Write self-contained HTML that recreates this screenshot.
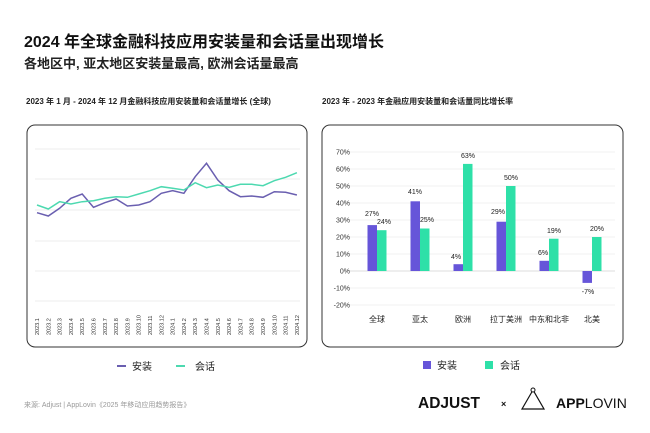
<!DOCTYPE html>
<html><head><meta charset="utf-8"><style>
body{margin:0;background:#fff;}
svg{display:block;font-family:"Liberation Sans","Noto Sans CJK SC",sans-serif;}
</style></head><body>
<svg width="650" height="433" viewBox="0 0 650 433">
<rect width="650" height="433" fill="#fff"/>
<text x="24" y="47" font-size="16" font-weight="bold" fill="#111">2024 年全球金融科技应用安装量和会话量出现增长</text>
<text x="24" y="68" font-size="13" font-weight="bold" fill="#222">各地区中, 亚太地区安装量最高, 欧洲会话量最高</text>
<text x="26" y="104" font-size="8" font-weight="bold" fill="#222">2023 年 1 月 - 2024 年 12 月金融科技应用安装量和会话量增长 (全球)</text>
<text x="322" y="104" font-size="8" font-weight="bold" fill="#222">2023 年 - 2023 年金融应用安装量和会话量同比增长率</text>
<rect x="27" y="125" width="280" height="222" rx="8" fill="#fff" stroke="#333" stroke-width="1"/>
<rect x="322" y="125" width="301" height="222" rx="8" fill="#fff" stroke="#333" stroke-width="1"/>
<g stroke="#eee" stroke-width="1">
<line x1="35" x2="300" y1="149" y2="149"/><line x1="35" x2="300" y1="179" y2="179"/><line x1="35" x2="300" y1="210" y2="210"/><line x1="35" x2="300" y1="241" y2="241"/><line x1="35" x2="300" y1="271" y2="271"/><line x1="35" x2="300" y1="301" y2="301"/>
</g>
<polyline fill="none" stroke="#6a5fb0" stroke-width="1.5" points="37,212.7 48.3,216 59.6,208.3 70.9,198.3 82.2,194 93.5,207.3 104.8,202.7 116.1,199 127.4,206 138.7,205 150,201.7 161.3,193.3 172.6,190.7 183.9,193.3 195.2,176.7 206.5,163.3 217.8,180 229.1,190.7 240.4,196.7 251.7,196 263,197.3 274.3,191.7 285.6,192.3 296.9,195"/>
<polyline fill="none" stroke="#4dd9b0" stroke-width="1.5" points="37,205 48.3,209 59.6,201.7 70.9,204 82.2,201.7 93.5,200.7 104.8,198.3 116.1,196.7 127.4,197.3 138.7,194 150,190.7 161.3,186.7 172.6,188.3 183.9,190 195.2,182.7 206.5,187.7 217.8,185 229.1,187.3 240.4,184.3 251.7,184.3 263,185.7 274.3,180.7 285.6,177.3 296.9,172.7"/>
<g font-size="5.5" fill="#333">
<text transform="translate(39,335) rotate(-90)">2023.1</text><text transform="translate(50.3,335) rotate(-90)">2023.2</text><text transform="translate(61.6,335) rotate(-90)">2023.3</text><text transform="translate(72.9,335) rotate(-90)">2023.4</text><text transform="translate(84.2,335) rotate(-90)">2023.5</text><text transform="translate(95.5,335) rotate(-90)">2023.6</text><text transform="translate(106.8,335) rotate(-90)">2023.7</text><text transform="translate(118.1,335) rotate(-90)">2023.8</text><text transform="translate(129.4,335) rotate(-90)">2023.9</text><text transform="translate(140.7,335) rotate(-90)">2023.10</text><text transform="translate(152,335) rotate(-90)">2023.11</text><text transform="translate(163.3,335) rotate(-90)">2023.12</text><text transform="translate(174.6,335) rotate(-90)">2024.1</text><text transform="translate(185.9,335) rotate(-90)">2024.2</text><text transform="translate(197.2,335) rotate(-90)">2024.3</text><text transform="translate(208.5,335) rotate(-90)">2024.4</text><text transform="translate(219.8,335) rotate(-90)">2024.5</text><text transform="translate(231.1,335) rotate(-90)">2024.6</text><text transform="translate(242.4,335) rotate(-90)">2024.7</text><text transform="translate(253.7,335) rotate(-90)">2024.8</text><text transform="translate(265,335) rotate(-90)">2024.9</text><text transform="translate(276.3,335) rotate(-90)">2024.10</text><text transform="translate(287.6,335) rotate(-90)">2024.11</text><text transform="translate(298.9,335) rotate(-90)">2024.12</text>
</g>
<line x1="117" x2="126" y1="366" y2="366" stroke="#6a5fb0" stroke-width="2"/>
<text x="132" y="370" font-size="10" fill="#222">安装</text>
<line x1="176" x2="185" y1="366" y2="366" stroke="#4dd9b0" stroke-width="2"/>
<text x="195" y="370" font-size="10" fill="#222">会话</text>
<g stroke="#f0f0f0" stroke-width="1">
<line x1="350" x2="615" y1="152" y2="152"/><line x1="350" x2="615" y1="169" y2="169"/><line x1="350" x2="615" y1="186" y2="186"/><line x1="350" x2="615" y1="203" y2="203"/><line x1="350" x2="615" y1="220" y2="220"/><line x1="350" x2="615" y1="237" y2="237"/><line x1="350" x2="615" y1="254" y2="254"/><line x1="350" x2="615" y1="288" y2="288"/><line x1="350" x2="615" y1="305" y2="305"/>
</g>
<line x1="350" x2="615" y1="271" y2="271" stroke="#ddd"/>
<g font-size="7" fill="#333" text-anchor="end">
<text x="350" y="154.5">70%</text><text x="350" y="171.5">60%</text><text x="350" y="188.5">50%</text><text x="350" y="205.5">40%</text><text x="350" y="222.5">30%</text><text x="350" y="239.5">20%</text><text x="350" y="256.5">10%</text><text x="350" y="273.5">0%</text><text x="350" y="290.5">-10%</text><text x="350" y="307.5">-20%</text>
</g>
<g fill="#6655d9">
<rect x="367.5" y="225.1" width="9.5" height="45.9"/>
<rect x="410.5" y="201.3" width="9.5" height="69.7"/>
<rect x="453.5" y="264.2" width="9.5" height="6.8"/>
<rect x="496.5" y="221.7" width="9.5" height="49.3"/>
<rect x="539.5" y="260.8" width="9.5" height="10.2"/>
<rect x="582.5" y="271" width="9.5" height="11.9"/>
</g>
<g fill="#2ee0a8">
<rect x="377" y="230.2" width="9.5" height="40.8"/>
<rect x="420" y="228.5" width="9.5" height="42.5"/>
<rect x="463" y="163.9" width="9.5" height="107.1"/>
<rect x="506" y="186" width="9.5" height="85"/>
<rect x="549" y="238.7" width="9.5" height="32.3"/>
<rect x="592" y="237" width="9.5" height="34"/>
</g>
<g font-size="7" fill="#222" text-anchor="middle">
<text x="372" y="216">27%</text><text x="384" y="224">24%</text>
<text x="415" y="194">41%</text><text x="427" y="222">25%</text>
<text x="456" y="259">4%</text><text x="468" y="158">63%</text>
<text x="498" y="214">29%</text><text x="511" y="180">50%</text>
<text x="543" y="255">6%</text><text x="554" y="233">19%</text>
<text x="588" y="294">-7%</text><text x="597" y="231">20%</text>
</g>
<g font-size="8" fill="#222" text-anchor="middle">
<text x="377" y="322">全球</text><text x="420" y="322">亚太</text><text x="463" y="322">欧洲</text><text x="506" y="322">拉丁美洲</text><text x="549" y="322">中东和北非</text><text x="592" y="322">北美</text>
</g>
<rect x="423" y="361" width="8" height="8" fill="#6655d9"/>
<text x="437" y="369" font-size="10" fill="#222">安装</text>
<rect x="485" y="361" width="8" height="8" fill="#2ee0a8"/>
<text x="500" y="369" font-size="10" fill="#222">会话</text>
<text x="24" y="407" font-size="7" fill="#999">来源: Adjust | AppLovin《2025 年移动应用趋势报告》</text>
<text x="418" y="408" font-size="15.5" font-weight="bold" fill="#111">ADJUST</text>
<text x="501" y="407" font-size="9" font-weight="bold" fill="#111">×</text>
<path d="M533,390 L522,409 L544,409 Z" fill="none" stroke="#111" stroke-width="1.2"/>
<circle cx="533" cy="390" r="2" fill="#fff" stroke="#111"/>
<text x="556" y="408" font-size="14" fill="#111"><tspan font-weight="bold">APP</tspan>LOVIN</text>
</svg>
</body></html>
